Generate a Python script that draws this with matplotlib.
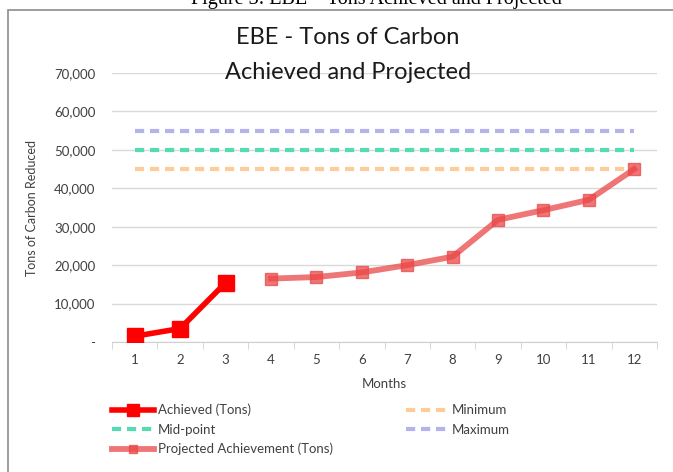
import matplotlib.pyplot as plt
from matplotlib.patches import Rectangle
from matplotlib.ticker import FuncFormatter, FixedLocator
import numpy as np

plt.rcParams["font.family"] = ["Lato", "DejaVu Sans"]

months = np.arange(1, 13)
achieved_months = [1, 2, 3]
achieved = [1500, 3500, 15400]
projected_months = [4, 5, 6, 7, 8, 9, 10, 11, 12]
projected = [16500, 16900, 18100, 20000, 22200, 31800, 34300, 37000, 45000]
minimum = 45000
midpoint = 50000
maximum = 55000

fig = plt.figure(figsize=(6.73, 4.72), dpi=100)

# document caption cut off by the top edge, and the chart frame
fig.text(0.56, 1 - 4 / 472, "Figure 3: EBE \u2013 Tons Achieved and Projected",
         family="Liberation Serif", fontsize=14.5, ha="center", va="baseline",
         color="black")
fig.patches.append(Rectangle((8 / 673, -0.05), 1.0, 1 - 10 / 472 + 0.05,
                             transform=fig.transFigure, fill=False,
                             edgecolor="#8c8c8c", linewidth=1.2, zorder=5))

ax = fig.add_axes([112 / 673, 1 - 342 / 472, 545 / 673, 269 / 472])

dash = (2.2, 1.4)
ax.plot(months, [minimum] * 12, color="#ffcc99", lw=3, dashes=dash,
        label="Minimum", zorder=2)
ax.plot(months, [midpoint] * 12, color="#55dbb4", lw=3, dashes=dash,
        label="Mid-point", zorder=2)
ax.plot(months, [maximum] * 12, color="#b4b4ec", lw=3, dashes=dash,
        label="Maximum", zorder=2)
ax.plot(projected_months, projected, color="#ea4848", alpha=0.75, lw=4.2,
        marker="s", markersize=8, label="Projected Achievement (Tons)", zorder=3)
ax.plot(achieved_months, achieved, color="#ff0000", lw=4, marker="s",
        markersize=11, label="Achieved (Tons)", zorder=4)

ax.set_xlim(0.5, 12.5)
ax.set_ylim(0, 70000)
ax.set_yticks(np.arange(0, 70001, 10000))
ax.yaxis.set_major_formatter(
    FuncFormatter(lambda v, p: "-" if v == 0 else f"{int(v):,}"))
ax.grid(axis="y", color="#d9d9d9", lw=1)
ax.set_axisbelow(True)

ax.set_xticks(months)
ax.xaxis.set_minor_locator(FixedLocator(np.arange(0.5, 13, 1)))
ax.tick_params(axis="x", which="major", length=0, pad=9, labelsize=9.5,
               labelcolor="#404040")
ax.tick_params(axis="x", which="minor", length=5, color="#d0d0d0",
               direction="out")
ax.tick_params(axis="y", length=0, pad=12, labelsize=9.5, labelcolor="#404040")

for side in ["top", "right", "left"]:
    ax.spines[side].set_visible(False)
ax.spines["bottom"].set_color("#d0d0d0")

ax.set_xlabel("Months", fontsize=9.5, color="#404040", labelpad=8)
ax.set_ylabel("Tons of Carbon Reduced", fontsize=9, color="#404040")
ax.yaxis.set_label_coords((38 - 112) / 545, 0.5)

fig.text(348 / 673, 1 - 55 / 472, "EBE - Tons of Carbon\nAchieved and Projected",
         ha="center", va="center", fontsize=17, linespacing=1.8,
         color="#1a1a1a")

handles, labels = ax.get_legend_handles_labels()
order = ["Achieved (Tons)", "Mid-point", "Projected Achievement (Tons)",
         "Minimum", "Maximum"]
lookup = dict(zip(labels, handles))
leg = fig.legend([lookup[k] for k in order], order, ncol=2,
                 loc="upper left", bbox_to_anchor=(100 / 673, 1 - 392 / 472),
                 frameon=False, fontsize=9.5, handlelength=3.2,
                 handletextpad=0.3, columnspacing=5.5, labelspacing=0.55,
                 markerscale=0.75)
for t in leg.get_texts():
    t.set_color("#404040")

fig.savefig("out.png", dpi=100)
